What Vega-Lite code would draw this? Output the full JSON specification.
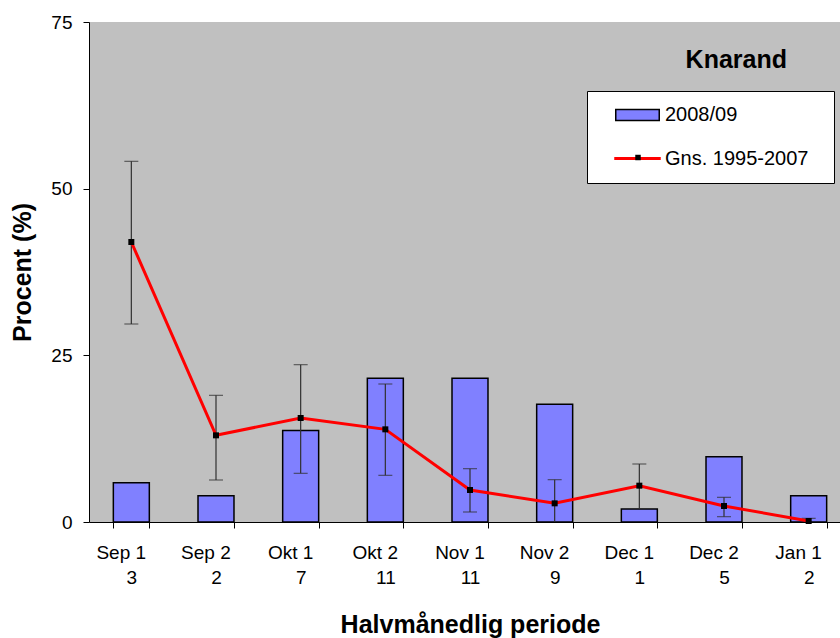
{
  "$schema": "https://vega.github.io/schema/vega-lite/v6.json",
  "width": 751,
  "height": 500,
  "autosize": {"type": "none"},
  "padding": {"left": 89, "top": 22, "right": 0, "bottom": 116},
  "background": "white",
  "config": {
    "view": {"fill": "#c0c0c0", "stroke": null},
    "font": "Liberation Sans",
    "axis": {"domainColor": "black", "domainWidth": 1, "tickColor": "black", "tickWidth": 1, "labelColor": "black", "titleColor": "black", "grid": false, "labelFont": "Liberation Sans", "titleFont": "Liberation Sans", "labelFontSize": 19, "titleFontSize": 25, "titleFontWeight": "bold", "tickSize": 6},
    "axisY": {"labelPadding": 11, "titlePadding": 15},
    "axisX": {"labelPadding": 15, "titlePadding": 25, "labelAngle": 0, "labelLineHeight": 25, "labelBaseline": "top", "tickBand": "extent"}
  },
  "title": {"text": "Knarand", "anchor": "end", "frame": "group", "orient": "top", "offset": 0, "dx": -53, "dy": 80, "baseline": "alphabetic", "fontSize": 25, "fontWeight": "bold", "font": "Liberation Sans", "color": "black"},
  "data": {
    "values": [
      {"periode": "Sep 1", "n": 3, "pct": 5.88, "gns": 42.0, "lo": 29.7, "hi": 54.1},
      {"periode": "Sep 2", "n": 2, "pct": 3.92, "gns": 13.0, "lo": 6.3, "hi": 19.0},
      {"periode": "Okt 1", "n": 7, "pct": 13.73, "gns": 15.6, "lo": 7.3, "hi": 23.6},
      {"periode": "Okt 2", "n": 11, "pct": 21.57, "gns": 13.9, "lo": 7.0, "hi": 20.7},
      {"periode": "Nov 1", "n": 11, "pct": 21.57, "gns": 4.8, "lo": 1.5, "hi": 8.0},
      {"periode": "Nov 2", "n": 9, "pct": 17.65, "gns": 2.8, "lo": -0.6, "hi": 6.35},
      {"periode": "Dec 1", "n": 1, "pct": 1.96, "gns": 5.45, "lo": 2.0, "hi": 8.7},
      {"periode": "Dec 2", "n": 5, "pct": 9.8, "gns": 2.4, "lo": 0.8, "hi": 3.7},
      {"periode": "Jan 1", "n": 2, "pct": 3.92, "gns": 0.15, "lo": -0.3, "hi": 0.55}
    ]
  },
  "transform": [{"calculate": "datum.periode + '|' + datum.n", "as": "akse"}],
  "encoding": {
    "x": {
      "field": "akse",
      "type": "nominal",
      "sort": null,
      "title": "Halvmånedlig periode",
      "scale": {"range": [0, 762], "paddingInner": 0.575, "paddingOuter": 0.2875},
      "axis": {"labelExpr": "isValid(datum.value) ? [split(datum.value,'|')[0] + '\u00a0\u00a0\u00a0\u00a0\u200b', split(datum.value,'|')[1]] : ''"}
    }
  },
  "layer": [
    {
      "mark": {"type": "bar", "stroke": "black", "strokeWidth": 1.5},
      "encoding": {
        "y": {"field": "pct", "type": "quantitative", "title": "Procent (%)", "scale": {"domain": [0, 75], "nice": false}, "axis": {"values": [0, 25, 50, 75]}},
        "color": {
          "datum": "2008/09",
          "scale": {"domain": ["2008/09", "Gns. 1995-2007"], "range": ["#8080ff", "#ff0000"]},
          "legend": {
            "title": null,
            "orient": "none",
            "legendX": 498,
            "legendY": 69,
            "fillColor": "white",
            "strokeColor": "black",
            "padding": 14,
            "labelFontSize": 20,
            "labelFont": "Liberation Sans",
            "labelColor": "black",
            "symbolSize": 900,
            "symbolOffset": 26.5,
            "labelOffset": 17.5,
            "rowPadding": 23.5,
            "symbolType": {"expr": "datum.value === '2008/09' ? 'M-1.45,-0.37H1.45V0.37H-1.45Z' : 'M-1.55,0H1.55'"},
            "symbolStrokeWidth": {"expr": "datum.value === '2008/09' ? 1.5 : 3"},
            "symbolOpacity": 1,
            "labelExpr": "datum.label + '\u00a0\u00a0\u200b'"
          }
        }
      }
    },
    {
      "mark": {"type": "rule", "color": "#303030", "strokeWidth": 1.2, "clip": true},
      "encoding": {
        "y": {"field": "lo", "type": "quantitative", "title": "Procent (%)", "scale": {"domain": [0, 75], "nice": false}},
        "y2": {"field": "hi"}
      }
    },
    {
      "mark": {"type": "tick", "color": "#303030", "thickness": 1.2, "size": 14, "clip": true},
      "encoding": {
        "y": {"field": "lo", "type": "quantitative", "title": "Procent (%)", "scale": {"domain": [0, 75], "nice": false}}
      }
    },
    {
      "mark": {"type": "tick", "color": "#303030", "thickness": 1.2, "size": 14, "clip": true},
      "encoding": {
        "y": {"field": "hi", "type": "quantitative", "title": "Procent (%)", "scale": {"domain": [0, 75], "nice": false}}
      }
    },
    {
      "mark": {"type": "line", "strokeWidth": 3},
      "encoding": {
        "y": {"field": "gns", "type": "quantitative", "title": "Procent (%)", "scale": {"domain": [0, 75], "nice": false}},
        "stroke": {
          "datum": "Gns. 1995-2007",
          "scale": {"domain": ["2008/09", "Gns. 1995-2007"], "range": ["black", "#ff0000"]},
          "legend": {
            "title": null,
            "orient": "none",
            "legendX": 498,
            "legendY": 69,
            "fillColor": "white",
            "strokeColor": "black",
            "padding": 14,
            "labelFontSize": 20,
            "labelFont": "Liberation Sans",
            "labelColor": "black",
            "symbolSize": 900,
            "symbolOffset": 26.5,
            "labelOffset": 17.5,
            "rowPadding": 23.5,
            "symbolType": {"expr": "datum.value === '2008/09' ? 'M-1.45,-0.37H1.45V0.37H-1.45Z' : 'M-1.55,0H1.55'"},
            "symbolStrokeWidth": {"expr": "datum.value === '2008/09' ? 1.5 : 3"},
            "symbolOpacity": 1,
            "labelExpr": "datum.label + '\u00a0\u00a0\u200b'"
          }
        }
      }
    },
    {
      "mark": {"type": "point", "filled": true, "color": "black", "size": 36, "opacity": 1},
      "encoding": {
        "y": {"field": "gns", "type": "quantitative", "title": "Procent (%)", "scale": {"domain": [0, 75], "nice": false}},
        "shape": {
          "datum": "markør",
          "scale": {"range": ["square"]},
          "legend": {
            "title": null,
            "orient": "none",
            "legendX": 546,
            "legendY": 132.5,
            "padding": 0,
            "symbolSize": 30,
            "symbolFillColor": "black",
            "symbolStrokeColor": "black",
            "symbolStrokeWidth": 0,
            "symbolType": "square",
            "labelFontSize": 1,
            "labelExpr": "''"
          }
        }
      }
    }
  ]
}
